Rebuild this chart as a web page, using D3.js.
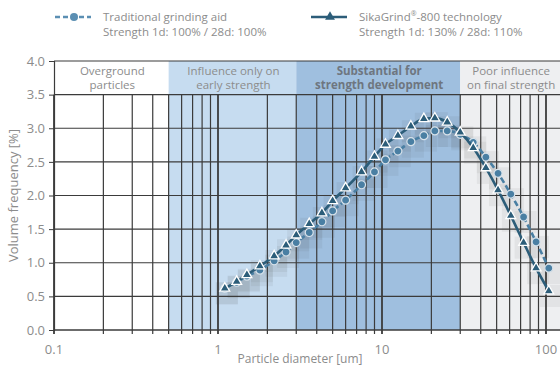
<!DOCTYPE html>
<html>
<head>
<meta charset="utf-8">
<script src="https://cdn.jsdelivr.net/npm/d3@7"></script>
<style>
  body { margin: 0; background: #fff; }
  svg { display: block; font-family: "Open Sans", sans-serif; }
</style>
</head>
<body>
<svg id="chart" width="560" height="369"></svg>
<script>
"use strict";

// particle diameter bins [um]
const diameters = [1.1, 1.3, 1.5, 1.8, 2.2, 2.6, 3, 3.6, 4.3, 5, 6, 7.5, 9, 10.5, 12.5,
  15, 18, 21, 25, 30, 36, 43, 51, 61, 73, 87, 104];

// volume frequency [%]
const traditional = [0.62, 0.71, 0.80, 0.89, 1.03, 1.16, 1.30, 1.45, 1.61, 1.77, 1.93, 2.16, 2.35,
  2.53, 2.66, 2.80, 2.89, 2.96, 2.96, 2.91, 2.79, 2.57, 2.33, 2.02, 1.68, 1.31, 0.92];
const sikagrind = [0.62, 0.72, 0.82, 0.95, 1.10, 1.26, 1.41, 1.58, 1.74, 1.92, 2.11, 2.35, 2.58,
  2.76, 2.89, 3.03, 3.14, 3.15, 3.09, 2.94, 2.71, 2.41, 2.08, 1.70, 1.30, 0.92, 0.58];

const zones = [
  { from: 0.1, to: 0.5, fill: '#ffffff', lines: ['Overground', 'particles'], bold: false },
  { from: 0.5, to: 3, fill: '#c6dcf0', lines: ['Influence only on', 'early strength'], bold: false },
  { from: 3, to: 30, fill: '#9fbfdf', lines: ['Substantial for', 'strength development'], bold: true },
  { from: 30, to: 130, fill: '#eeeff1', lines: ['Poor influence', 'on final strength'], bold: false },
];

const xTickLabels = [0.1, 1, 10, 100];
const yTicks = [0, 0.5, 1, 1.5, 2, 2.5, 3, 3.5, 4];

const plotLeft = 54, plotRight = 560, plotTop = 61, plotBottom = 330;

const svg = d3.select('#chart');
const x = d3.scaleLog().domain([0.1, 100]).range([plotLeft, 546]);
const y = d3.scaleLinear().domain([0, 4]).range([plotBottom, plotTop]);

const textGray = '#8c8c8c';
const gridColor = '#3b3b3b';

// zone backgrounds
svg.append('g').selectAll('rect').data(zones).join('rect')
  .attr('x', (d) => x(d.from))
  .attr('y', plotTop)
  .attr('width', (d) => Math.min(x(d.to), plotRight) - x(d.from))
  .attr('height', plotBottom - plotTop)
  .attr('fill', (d) => d.fill);

// zone labels
let labels = svg.append('g').attr('text-anchor', 'middle').style('font-size', '11.5px');
zones.forEach((z) => {
  let cx = (x(z.from) + Math.min(x(z.to), plotRight)) / 2 + 1;
  let t = labels.append('text')
    .attr('x', cx)
    .attr('y', y(3.5) - 20)
    .attr('fill', z.bold ? '#6e7680' : textGray)
    .style('font-weight', z.bold ? 'bold' : 'normal');
  z.lines.forEach((l, i) => {
    t.append('tspan').attr('x', cx).attr('dy', i === 0 ? 0 : 14).text(l);
  });
});

// grid
let minors = [];
[0.1, 1, 10].forEach((dec) => {
  for (let k = 1; k <= 9; k++) minors.push(+(dec * k).toPrecision(3));
});
minors.push(100);

let grid = svg.append('g');
grid.selectAll('line.v').data(minors).join('line')
  .attr('class', 'v')
  .attr('x1', (d) => x(d)).attr('x2', (d) => x(d))
  .attr('y1', y(3.5)).attr('y2', plotBottom + 4)
  .attr('stroke', gridColor)
  .attr('stroke-width', (d) => xTickLabels.includes(d) ? 1.8 : 1.2);

grid.selectAll('line.h').data(yTicks.slice(1)).join('line')
  .attr('class', 'h')
  .attr('x1', plotLeft).attr('x2', plotRight)
  .attr('y1', (d) => y(d)).attr('y2', (d) => y(d))
  .attr('stroke', gridColor)
  .attr('stroke-width', 1.2);

// axes
let yAxis = svg.append('g')
  .attr('transform', `translate(${plotLeft},0)`)
  .call(d3.axisLeft(y).tickValues(yTicks).tickFormat(d3.format('.1f')).tickSize(5).tickPadding(4));
yAxis.select('.domain').attr('stroke', gridColor).attr('stroke-width', 1.2);
yAxis.selectAll('.tick line').attr('stroke', gridColor);
yAxis.selectAll('.tick text').attr('fill', textGray).style('font-size', '13px').style('font-family', '"Open Sans", sans-serif');

svg.append('line')
  .attr('x1', plotLeft).attr('x2', plotRight).attr('y1', plotBottom).attr('y2', plotBottom)
  .attr('stroke', gridColor).attr('stroke-width', 1.6);

svg.append('g').selectAll('text').data(xTickLabels).join('text')
  .attr('x', (d) => x(d)).attr('y', plotBottom + 24)
  .attr('text-anchor', 'middle')
  .attr('fill', textGray)
  .style('font-size', '13px')
  .text((d) => d);

svg.append('text')
  .attr('x', 300).attr('y', 363)
  .attr('text-anchor', 'middle').attr('fill', textGray)
  .style('font-size', '12px')
  .text('Particle diameter [um]');

svg.append('text')
  .attr('transform', `translate(18,${(plotTop + plotBottom) / 2}) rotate(-90)`)
  .attr('text-anchor', 'middle').attr('fill', textGray)
  .style('font-size', '13px')
  .text('Volume frequency [%]');

// series
const series = [
  { name: ['Traditional grinding aid'], sub: 'Strength 1d: 100% / 28d: 100%', values: traditional,
    color: '#4a7fa3', dash: '6,3', marker: 'circle', lx: 55 },
  { name: ['SikaGrind', '\u00ae', '-800 technology'], sub: 'Strength 1d: 130% / 28d: 110%', values: sikagrind,
    color: '#2c5d79', dash: null, marker: 'triangle', lx: 311 },
];

let line = d3.line()
  .x((d) => x(d[0]))
  .y((d) => y(d[1]))
  .curve(d3.curveMonotoneX);

// blocky shadows behind the points
let shadows = svg.append('g').attr('fill', '#4a4a4a').attr('fill-opacity', 0.07);
series.forEach((s) => {
  shadows.selectAll(null).data(d3.zip(diameters, s.values)).join('rect')
    .attr('x', (d) => x(d[0]) - 9)
    .attr('y', (d) => y(d[1]) - 6)
    .attr('width', 22).attr('height', 22);
});

const triangle = d3.symbol().type(d3.symbolTriangle).size(42);

function drawMarker(g, type, color) {
  if (type === 'circle') {
    g.append('circle').attr('r', 4).attr('fill', color)
      .attr('stroke', '#d8e2ea').attr('stroke-width', 1.2);
  } else {
    g.append('path').attr('d', triangle).attr('fill', color)
      .attr('stroke', '#ffffff').attr('stroke-width', 1.3);
  }
}

series.forEach((s) => {
  let pts = d3.zip(diameters, s.values);
  svg.append('path')
    .datum(pts)
    .attr('d', line)
    .attr('fill', 'none')
    .attr('stroke', s.color)
    .attr('stroke-width', 2.6)
    .attr('stroke-dasharray', s.dash);
  pts.forEach((p) => {
    let g = svg.append('g').attr('transform', `translate(${x(p[0])},${y(p[1])})`);
    drawMarker(g, s.marker, s.color);
  });

  // legend
  let lg = svg.append('g').attr('transform', `translate(${s.lx},17)`);
  lg.append('line').attr('x1', 0).attr('x2', 36)
    .attr('stroke', s.marker === 'circle' ? '#5b8fb3' : s.color)
    .attr('stroke-width', 2.6).attr('stroke-dasharray', s.dash ? '5,3' : null);
  let mg = lg.append('g').attr('transform', 'translate(19,0)');
  drawMarker(mg, s.marker, s.marker === 'circle' ? '#5b8fb3' : s.color);
  mg.selectAll('*').attr('stroke', 'none');
  let nameText = lg.append('text').attr('x', 48).attr('y', 4).attr('fill', textGray)
    .style('font-size', '11.5px');
  s.name.forEach((part, i) => {
    let sup = part === '\u00ae';
    nameText.append('tspan')
      .style('font-size', sup ? '7px' : null)
      .attr('dy', sup ? -5 : (i > 0 ? 5 : 0))
      .text(part);
  });
  lg.append('text').attr('x', 48).attr('y', 19).attr('fill', textGray)
    .style('font-size', '11.5px').text(s.sub);
});
</script>
</body>
</html>
